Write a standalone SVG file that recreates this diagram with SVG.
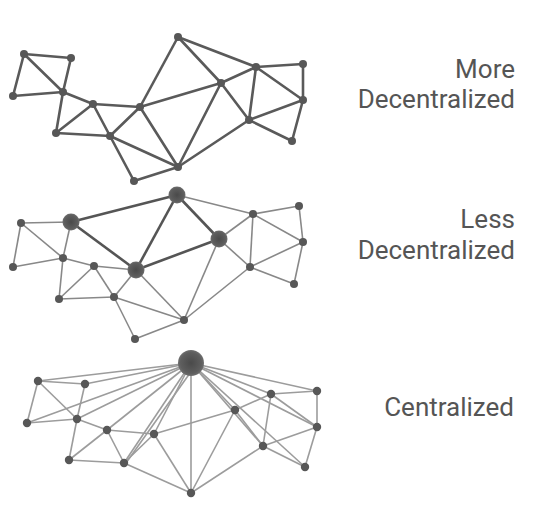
<svg xmlns="http://www.w3.org/2000/svg" width="543" height="522" viewBox="0 0 543 522">
<defs>
<radialGradient id="big" cx="50%" cy="50%" r="50%">
<stop offset="0%" stop-color="#4a4a4a"/>
<stop offset="80%" stop-color="#5e5e5e"/>
<stop offset="100%" stop-color="#6e6e6e"/>
</radialGradient>
<style>
.e1{stroke:#5a5a5a;stroke-width:2.6;fill:none;stroke-linecap:round}
.e2{stroke:#888;stroke-width:1.6;fill:none}
.e2t{stroke:#555;stroke-width:2.6;fill:none}
.e3{stroke:#9c9c9c;stroke-width:1.6;fill:none}
.n{fill:#575757}
.b{fill:url(#big)}
.lbl{font-family:Roboto,"Liberation Sans",sans-serif;font-size:26px;fill:#555;text-anchor:end}
</style>
</defs>
<rect width="543" height="522" fill="#fff"/>

<g id="connectors">
<g id="top-edges" class="e1">
<line x1="24" y1="54" x2="71" y2="58"/>
<line x1="24" y1="54" x2="13" y2="96"/>
<line x1="24" y1="54" x2="63" y2="92"/>
<line x1="71" y1="58" x2="63" y2="92"/>
<line x1="13" y1="96" x2="63" y2="92"/>
<line x1="63" y1="92" x2="93" y2="104"/>
<line x1="63" y1="92" x2="56" y2="133"/>
<line x1="93" y1="104" x2="56" y2="133"/>
<line x1="93" y1="104" x2="110" y2="136"/>
<line x1="93" y1="104" x2="140" y2="107"/>
<line x1="56" y1="133" x2="110" y2="136"/>
<line x1="110" y1="136" x2="140" y2="107"/>
<line x1="110" y1="136" x2="178" y2="167"/>
<line x1="110" y1="136" x2="134" y2="181"/>
<line x1="134" y1="181" x2="178" y2="167"/>
<line x1="140" y1="107" x2="178" y2="37"/>
<line x1="140" y1="107" x2="221" y2="83"/>
<line x1="140" y1="107" x2="178" y2="167"/>
<line x1="178" y1="37" x2="221" y2="83"/>
<line x1="178" y1="37" x2="256" y2="67"/>
<line x1="221" y1="83" x2="256" y2="67"/>
<line x1="221" y1="83" x2="178" y2="167"/>
<line x1="221" y1="83" x2="249" y2="120"/>
<line x1="256" y1="67" x2="303" y2="64"/>
<line x1="256" y1="67" x2="303" y2="100"/>
<line x1="256" y1="67" x2="249" y2="120"/>
<line x1="303" y1="64" x2="303" y2="100"/>
<line x1="303" y1="100" x2="249" y2="120"/>
<line x1="303" y1="100" x2="292" y2="141"/>
<line x1="249" y1="120" x2="292" y2="141"/>
<line x1="249" y1="120" x2="178" y2="167"/>
</g>
<g id="mid-edges" class="e2">
<line x1="21" y1="223" x2="71" y2="222"/>
<line x1="21" y1="223" x2="13" y2="267"/>
<line x1="21" y1="223" x2="63" y2="258"/>
<line x1="71" y1="222" x2="63" y2="258"/>
<line x1="13" y1="267" x2="63" y2="258"/>
<line x1="63" y1="258" x2="94" y2="266"/>
<line x1="63" y1="258" x2="59" y2="299"/>
<line x1="94" y1="266" x2="59" y2="299"/>
<line x1="94" y1="266" x2="114" y2="297"/>
<line x1="94" y1="266" x2="136" y2="270"/>
<line x1="59" y1="299" x2="114" y2="297"/>
<line x1="114" y1="297" x2="136" y2="270"/>
<line x1="114" y1="297" x2="184" y2="320"/>
<line x1="114" y1="297" x2="135" y2="339"/>
<line x1="135" y1="339" x2="184" y2="320"/>
<line x1="136" y1="270" x2="184" y2="320"/>
<line x1="177" y1="195" x2="253" y2="214"/>
<line x1="219" y1="239" x2="253" y2="214"/>
<line x1="219" y1="239" x2="184" y2="320"/>
<line x1="219" y1="239" x2="250" y2="267"/>
<line x1="253" y1="214" x2="299" y2="206"/>
<line x1="253" y1="214" x2="303" y2="242"/>
<line x1="253" y1="214" x2="250" y2="267"/>
<line x1="299" y1="206" x2="303" y2="242"/>
<line x1="303" y1="242" x2="250" y2="267"/>
<line x1="303" y1="242" x2="294" y2="284"/>
<line x1="250" y1="267" x2="294" y2="284"/>
<line x1="250" y1="267" x2="184" y2="320"/>
</g>
<g id="mid-strong-edges" class="e2t">
<line x1="71" y1="222" x2="177" y2="195"/>
<line x1="71" y1="222" x2="136" y2="270"/>
<line x1="136" y1="270" x2="177" y2="195"/>
<line x1="136" y1="270" x2="219" y2="239"/>
<line x1="177" y1="195" x2="219" y2="239"/>
</g>
<g id="bottom-edges" class="e3">
<line x1="38" y1="381" x2="85" y2="384"/>
<line x1="38" y1="381" x2="27" y2="423"/>
<line x1="38" y1="381" x2="77" y2="419"/>
<line x1="85" y1="384" x2="77" y2="419"/>
<line x1="27" y1="423" x2="77" y2="419"/>
<line x1="77" y1="419" x2="107" y2="430"/>
<line x1="77" y1="419" x2="69" y2="460"/>
<line x1="107" y1="430" x2="69" y2="460"/>
<line x1="107" y1="430" x2="124" y2="463"/>
<line x1="107" y1="430" x2="154" y2="434"/>
<line x1="69" y1="460" x2="124" y2="463"/>
<line x1="124" y1="463" x2="154" y2="434"/>
<line x1="124" y1="463" x2="191" y2="493"/>
<line x1="154" y1="434" x2="235" y2="410"/>
<line x1="154" y1="434" x2="191" y2="493"/>
<line x1="235" y1="410" x2="271" y2="394"/>
<line x1="235" y1="410" x2="263" y2="446"/>
<line x1="235" y1="410" x2="191" y2="493"/>
<line x1="271" y1="394" x2="317" y2="391"/>
<line x1="271" y1="394" x2="317" y2="427"/>
<line x1="271" y1="394" x2="263" y2="446"/>
<line x1="317" y1="391" x2="317" y2="427"/>
<line x1="317" y1="427" x2="263" y2="446"/>
<line x1="317" y1="427" x2="305" y2="467"/>
<line x1="263" y1="446" x2="305" y2="467"/>
<line x1="263" y1="446" x2="191" y2="493"/>
<line x1="191" y1="363" x2="38" y2="381"/>
<line x1="191" y1="363" x2="85" y2="384"/>
<line x1="191" y1="363" x2="27" y2="423"/>
<line x1="191" y1="363" x2="77" y2="419"/>
<line x1="191" y1="363" x2="107" y2="430"/>
<line x1="191" y1="363" x2="124" y2="463"/>
<line x1="195" y1="366" x2="126" y2="463"/>
<line x1="191" y1="363" x2="154" y2="434"/>
<line x1="191" y1="363" x2="191" y2="493"/>
<line x1="191" y1="363" x2="235" y2="410"/>
<line x1="191" y1="363" x2="263" y2="446"/>
<line x1="191" y1="363" x2="305" y2="467"/>
<line x1="191" y1="363" x2="317" y2="427"/>
<line x1="191" y1="363" x2="271" y2="394"/>
<line x1="191" y1="363" x2="317" y2="391"/>
</g>
</g>

<g id="network-more-decentralized">
<circle id="t-A" class="n" cx="24" cy="54" r="4"/>
<circle id="t-B" class="n" cx="71" cy="58" r="4"/>
<circle id="t-C" class="n" cx="13" cy="96" r="4"/>
<circle id="t-D" class="n" cx="63" cy="92" r="4"/>
<circle id="t-E" class="n" cx="93" cy="104" r="4"/>
<circle id="t-F" class="n" cx="56" cy="133" r="4"/>
<circle id="t-G" class="n" cx="110" cy="136" r="4"/>
<circle id="t-H" class="n" cx="140" cy="107" r="4"/>
<circle id="t-I" class="n" cx="134" cy="181" r="4"/>
<circle id="t-J" class="n" cx="178" cy="37" r="4"/>
<circle id="t-K" class="n" cx="221" cy="83" r="4"/>
<circle id="t-L" class="n" cx="256" cy="67" r="4"/>
<circle id="t-M" class="n" cx="303" cy="64" r="4"/>
<circle id="t-N" class="n" cx="303" cy="100" r="4"/>
<circle id="t-O" class="n" cx="249" cy="120" r="4"/>
<circle id="t-P" class="n" cx="292" cy="141" r="4"/>
<circle id="t-Q" class="n" cx="178" cy="167" r="4"/>
</g>

<g id="network-less-decentralized">
<circle id="m-a" class="n" cx="21" cy="223" r="4"/>
<circle id="m-b" class="b" cx="71" cy="222" r="8.5"/>
<circle id="m-c" class="n" cx="13" cy="267" r="4"/>
<circle id="m-d" class="n" cx="63" cy="258" r="4"/>
<circle id="m-e" class="n" cx="94" cy="266" r="4"/>
<circle id="m-f" class="b" cx="136" cy="270" r="8.5"/>
<circle id="m-g" class="n" cx="59" cy="299" r="4"/>
<circle id="m-h" class="n" cx="114" cy="297" r="4"/>
<circle id="m-i" class="n" cx="135" cy="339" r="4"/>
<circle id="m-j" class="b" cx="177" cy="195" r="8.5"/>
<circle id="m-k" class="b" cx="219" cy="239" r="8.5"/>
<circle id="m-l" class="n" cx="253" cy="214" r="4"/>
<circle id="m-m" class="n" cx="299" cy="206" r="4"/>
<circle id="m-n" class="n" cx="303" cy="242" r="4"/>
<circle id="m-o" class="n" cx="250" cy="267" r="4"/>
<circle id="m-p" class="n" cx="294" cy="284" r="4"/>
<circle id="m-q" class="n" cx="184" cy="320" r="4"/>
</g>

<g id="network-centralized">
<circle id="c-a" class="n" cx="38" cy="381" r="4.2"/>
<circle id="c-b" class="n" cx="85" cy="384" r="4.2"/>
<circle id="c-c" class="n" cx="27" cy="423" r="4.2"/>
<circle id="c-d" class="n" cx="77" cy="419" r="4.2"/>
<circle id="c-e" class="n" cx="107" cy="430" r="4.2"/>
<circle id="c-g" class="n" cx="69" cy="460" r="4.2"/>
<circle id="c-h" class="n" cx="124" cy="463" r="4.2"/>
<circle id="c-f" class="n" cx="154" cy="434" r="4.2"/>
<circle id="c-hub" class="b" cx="191" cy="363" r="13"/>
<circle id="c-k" class="n" cx="235" cy="410" r="4.2"/>
<circle id="c-l" class="n" cx="271" cy="394" r="4.2"/>
<circle id="c-m" class="n" cx="317" cy="391" r="4.2"/>
<circle id="c-n" class="n" cx="317" cy="427" r="4.2"/>
<circle id="c-o" class="n" cx="263" cy="446" r="4.2"/>
<circle id="c-p" class="n" cx="305" cy="467" r="4.2"/>
<circle id="c-q" class="n" cx="191" cy="493" r="4.2"/>
</g>

<g id="labels">
<text class="lbl" x="515" y="78">More</text>
<text class="lbl" x="515" y="108">Decentralized</text>
<text class="lbl" x="515" y="228">Less</text>
<text class="lbl" x="515" y="259">Decentralized</text>
<text class="lbl" x="514" y="416">Centralized</text>
</g>
</svg>
